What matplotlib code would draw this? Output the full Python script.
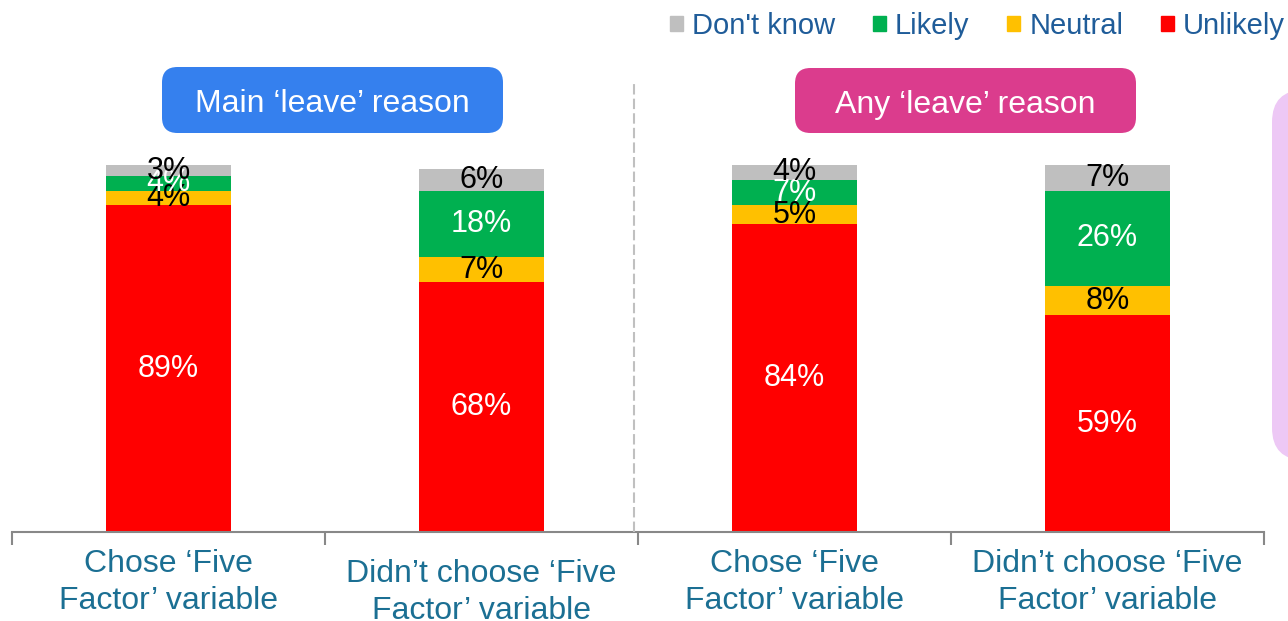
import matplotlib.pyplot as plt
from matplotlib.patches import FancyBboxPatch, Patch
from matplotlib.lines import Line2D

plt.rcParams['font.family'] = ['Liberation Sans', 'DejaVu Sans']

groups = ["Chose \u2018Five\nFactor\u2019 variable",
          "Didn\u2019t choose \u2018Five\nFactor\u2019 variable",
          "Chose \u2018Five\nFactor\u2019 variable",
          "Didn\u2019t choose \u2018Five\nFactor\u2019 variable"]
series = ["Unlikely", "Neutral", "Likely", "Don't know"]
unlikely = [89, 68, 84, 59]
neutral = [4, 7, 5, 8]
likely = [4, 18, 7, 26]
dont_know = [3, 6, 4, 7]
panel_titles = ["Main \u2018leave\u2019 reason", "Any \u2018leave\u2019 reason"]

colors = {"Unlikely": "#FF0000", "Neutral": "#FFC000",
          "Likely": "#00B050", "Don't know": "#BFBFBF"}
text_colors = {"Unlikely": "white", "Neutral": "black",
               "Likely": "white", "Don't know": "black"}

fig = plt.figure(figsize=(12.88, 6.21), dpi=100)
ax = fig.add_axes([12 / 1288, (621 - 532) / 621, 1252 / 1288, 367 / 621])

x = list(range(len(groups)))
bottom = [0] * len(groups)
for name, vals in zip(series, [unlikely, neutral, likely, dont_know]):
    ax.bar(x, vals, width=0.4, bottom=bottom, color=colors[name], linewidth=0)
    for xi, b, v in zip(x, bottom, vals):
        ax.text(xi, b + v / 2, f"{v}%", ha='center', va='center',
                fontsize=22, color=text_colors[name])
    bottom = [b + v for b, v in zip(bottom, vals)]

ax.set_xlim(-0.5, 3.5)
ax.set_ylim(0, 100)
ax.set_yticks([])
ax.set_xticks([-0.5, 0.5, 1.5, 2.5, 3.5])
ax.set_xticklabels([])
ax.tick_params(axis='x', length=9, width=1.5, color='#888888')
for s in ['top', 'left', 'right']:
    ax.spines[s].set_visible(False)
ax.spines['bottom'].set_color('#888888')
ax.spines['bottom'].set_linewidth(1.5)

# category labels under the axis (second one sits a bit lower)
for xi, lbl, off in zip(x, groups, [17, 27, 17, 17]):
    ax.annotate(lbl, xy=(xi, 0), xycoords=('data', 'axes fraction'),
                xytext=(0, -off), textcoords='offset pixels',
                ha='center', va='top', fontsize=23, color='#1B6F93',
                linespacing=1.3)

# dashed separator between the two panels
fig.add_artist(Line2D([634 / 1288, 634 / 1288], [(621 - 532) / 621, (621 - 83) / 621],
                      color='#C0C0C0', lw=1.5, ls=(0, (5, 2))))

# panel headers
for title, (x0, x1, y0, y1), fc in zip(panel_titles,
                                       [(162, 503, 67, 133), (795, 1136, 68, 133)],
                                       ['#3580EE', '#DB3C8D']):
    box = FancyBboxPatch((x0 / 1288, (621 - y1) / 621), (x1 - x0) / 1288, (y1 - y0) / 621,
                         boxstyle="round,pad=0,rounding_size=0.012",
                         transform=fig.transFigure, fc=fc, ec='none',
                         mutation_aspect=1288 / 621)
    fig.add_artist(box)
    fig.text((x0 + x1) / 2 / 1288, (621 - (y0 + y1) / 2 - 4) / 621, title,
             ha='center', va='center', fontsize=23, color='white')

# side panel edge
side = FancyBboxPatch((1272 / 1288, (621 - 460) / 621), 60 / 1288, 370 / 621,
                      boxstyle="round,pad=0,rounding_size=0.025",
                      transform=fig.transFigure, fc='#EDC8F5', ec='none',
                      mutation_aspect=1288 / 621)
fig.add_artist(side)

handles = [Patch(color=colors[n]) for n in ["Don't know", "Likely", "Neutral", "Unlikely"]]
leg = fig.legend(handles, ["Don't know", "Likely", "Neutral", "Unlikely"],
                 loc='upper right', bbox_to_anchor=(1.018, 1.023), ncol=4, frameon=False,
                 fontsize=21, handlelength=0.45, handleheight=0.45,
                 handletextpad=0.3, columnspacing=1.3)
for t in leg.get_texts():
    t.set_color('#1F5C99')

fig.savefig("out.png", dpi=100)
